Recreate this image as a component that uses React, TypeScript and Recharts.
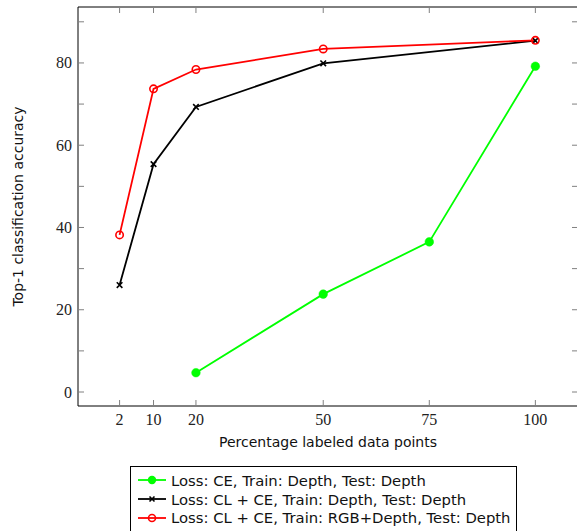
import { LineChart, Line, XAxis, YAxis, Label } from 'recharts';

// percentage of labeled points used for training
const ceDepthX = [20, 50, 75, 100];
const ceDepthY = [4.7, 23.8, 36.5, 79.2];

const clDepthX = [2, 10, 20, 50, 100];
const clDepthY = [26.0, 55.4, 69.3, 79.9, 85.4];

const clRgbDepthX = [2, 10, 20, 50, 100];
const clRgbDepthY = [38.2, 73.7, 78.4, 83.4, 85.5];

const xTicks = [2, 10, 20, 50, 75, 100];
const yTicks = [0, 10, 20, 30, 40, 50, 60, 70, 80, 90];
const yLabelTicks = [0, 20, 40, 60, 80];

const legendNames = [
  'Loss: CE, Train: Depth, Test: Depth',
  'Loss: CL + CE, Train: Depth, Test: Depth',
  'Loss: CL + CE, Train: RGB+Depth, Test: Depth',
];

const toRows = (xs: number[], ys: number[]) => xs.map((x, i) => ({ x, y: ys[i] }));

const ceData = toRows(ceDepthX, ceDepthY);
const clData = toRows(clDepthX, clDepthY);
const rgbData = toRows(clRgbDepthX, clRgbDepthY);

const SERIF = '"Liberation Serif", "Times New Roman", serif';
const SANS = '"DejaVu Sans", sans-serif';
const TICK_GRAY = '#808080';
const X_DOMAIN = [-7.8, 110.05];
const Y_DOMAIN = [-3.4, 93.6];

const BottomTick = (props: any) => {
  const { x, y, payload } = props;
  return (
    <g>
      <line x1={x} y1={y} x2={x} y2={y - 6} stroke={TICK_GRAY} strokeWidth={1} />
      <text x={x} y={y + 13} textAnchor="middle" dominantBaseline="central" fontFamily={SERIF} fontSize={16} fill="#222">
        {payload.value}
      </text>
    </g>
  );
};

const TopTick = (props: any) => {
  const { x, y } = props;
  return <line x1={x} y1={y} x2={x} y2={y + 6} stroke={TICK_GRAY} strokeWidth={1} />;
};

const LeftTick = (props: any) => {
  const { x, y, payload } = props;
  const show = yLabelTicks.includes(payload.value);
  return (
    <g>
      <line x1={x} y1={y} x2={x + 6} y2={y} stroke={TICK_GRAY} strokeWidth={1} />
      {show && (
        <text x={x - 6} y={y} textAnchor="end" dominantBaseline="central" fontFamily={SERIF} fontSize={16} fill="#222">
          {payload.value}
        </text>
      )}
    </g>
  );
};

const RightTick = (props: any) => {
  const { x, y } = props;
  return <line x1={x} y1={y} x2={x - 6} y2={y} stroke={TICK_GRAY} strokeWidth={1} />;
};

const CrossDot = (props: any) => {
  const { cx, cy, index } = props;
  const s = 2.8;
  return (
    <path
      key={`cross-${index}`}
      d={`M${cx - s},${cy - s}L${cx + s},${cy + s}M${cx - s},${cy + s}L${cx + s},${cy - s}`}
      stroke="#000"
      strokeWidth={1.6}
      fill="none"
    />
  );
};

const LegendIcon = ({ kind }: { kind: number }) => {
  const color = kind === 0 ? '#00ff00' : kind === 1 ? '#000' : '#ff0000';
  return (
    <svg width={30} height={12} style={{ display: 'block', marginRight: 4 }}>
      <line x1={1} y1={6} x2={29} y2={6} stroke={color} strokeWidth={1.8} />
      {kind === 0 && <circle cx={15} cy={6} r={4.2} fill={color} />}
      {kind === 1 && (
        <path d="M12.5,3.5L17.5,8.5M12.5,8.5L17.5,3.5" stroke={color} strokeWidth={1.6} />
      )}
      {kind === 2 && <circle cx={15} cy={6} r={3.5} fill="none" stroke={color} strokeWidth={1.6} />}
    </svg>
  );
};

const LegendBox = () => (
  <div
    style={{
      position: 'absolute',
      left: 130,
      top: 466,
      border: '1px solid #000',
      background: '#fff',
      padding: '4px 6px 6px 6px',
      fontFamily: SANS,
      fontSize: 14.8,
      color: '#111',
    }}
  >
    {legendNames.map((name, i) => (
      <div key={name} style={{ display: 'flex', alignItems: 'center', height: 18.8, whiteSpace: 'nowrap' }}>
        <LegendIcon kind={i} />
        <span>{name}</span>
      </div>
    ))}
  </div>
);

export default function App() {
  return (
    <div style={{ position: 'relative', width: 577, height: 531, overflow: 'hidden' }}>
      <style>{`body{margin:0;background:#fff}`}</style>
      <LineChart width={577} height={531} margin={{ top: 6, right: -2, bottom: 124, left: 0 }}>
        <XAxis
          xAxisId="bottom"
          dataKey="x"
          type="number"
          domain={X_DOMAIN}
          allowDataOverflow
          ticks={xTicks}
          interval={0}
          height={1}
          tickSize={0}
          tickMargin={0}
          tick={<BottomTick />}
          axisLine={{ stroke: '#000', strokeWidth: 1 }}
          tickLine={false}
        >
          <Label
            value="Percentage labeled data points"
            position="bottom"
            offset={30}
            style={{ fontFamily: SANS, fontSize: 14, fill: '#111' }}
          />
        </XAxis>
        <XAxis
          xAxisId="top"
          orientation="top"
          dataKey="x"
          type="number"
          domain={X_DOMAIN}
          allowDataOverflow
          ticks={xTicks}
          interval={0}
          height={1}
          tickSize={0}
          tickMargin={0}
          tick={<TopTick />}
          axisLine={{ stroke: '#000', strokeWidth: 1 }}
          tickLine={false}
        />
        <YAxis
          yAxisId="left"
          type="number"
          domain={Y_DOMAIN}
          allowDataOverflow
          ticks={yTicks}
          interval={0}
          width={78}
          tickSize={0}
          tickMargin={0}
          tick={<LeftTick />}
          axisLine={{ stroke: '#000', strokeWidth: 1 }}
          tickLine={false}
        >
          <Label
            value="Top-1 classification accuracy"
            angle={-90}
            position="insideLeft"
            offset={18}
            style={{ fontFamily: SANS, fontSize: 14, fill: '#111', textAnchor: 'middle' }}
          />
        </YAxis>
        <YAxis
          yAxisId="right"
          orientation="right"
          type="number"
          domain={Y_DOMAIN}
          allowDataOverflow
          ticks={yTicks}
          interval={0}
          width={1}
          tickSize={0}
          tickMargin={0}
          tick={<RightTick />}
          axisLine={{ stroke: '#000', strokeWidth: 1 }}
          tickLine={false}
        />
        <Line
          xAxisId="bottom"
          yAxisId="left"
          data={ceData}
          dataKey="y"
          type="linear"
          stroke="#00ff00"
          strokeWidth={1.8}
          dot={{ r: 4.3, fill: '#00ff00', stroke: '#00ff00', strokeWidth: 0.5 }}
          activeDot={false}
          isAnimationActive={false}
        />
        <Line
          xAxisId="bottom"
          yAxisId="left"
          data={clData}
          dataKey="y"
          type="linear"
          stroke="#000"
          strokeWidth={1.8}
          dot={(p: any) => <CrossDot key={`c${p.index}`} {...p} />}
          activeDot={false}
          isAnimationActive={false}
        />
        <Line
          xAxisId="bottom"
          yAxisId="left"
          data={rgbData}
          dataKey="y"
          type="linear"
          stroke="#ff0000"
          strokeWidth={1.8}
          dot={{ r: 3.7, fill: 'none', stroke: '#ff0000', strokeWidth: 1.6 }}
          activeDot={false}
          isAnimationActive={false}
        />
      </LineChart>
      <LegendBox />
    </div>
  );
}
